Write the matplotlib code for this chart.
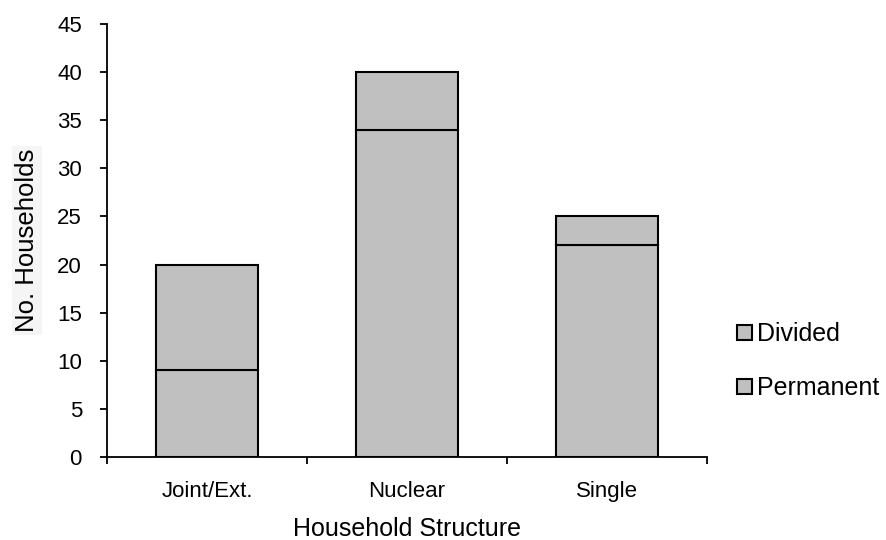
import matplotlib.pyplot as plt
from matplotlib.patches import Patch
import numpy as np

plt.rcParams['font.family'] = ['Liberation Sans', 'DejaVu Sans']

# Household counts by structure
categories = ["Joint/Ext.", "Nuclear", "Single"]
permanent = [9, 34, 22]
divided = [11, 6, 3]

bar_color = "#c0c0c0"

fig = plt.figure(figsize=(8.87, 5.40), dpi=100)
ax = fig.add_axes([0.1206, 0.1537, 0.6764, 0.8019])

x = np.arange(len(categories))
ax.bar(x, permanent, width=0.51, color=bar_color, edgecolor="black", linewidth=1.5)
ax.bar(x, divided, width=0.51, bottom=permanent, color=bar_color,
       edgecolor="black", linewidth=1.5)

ax.set_xlim(-0.5, len(categories) - 0.5)
ax.set_ylim(0, 45)
ax.set_yticks(np.arange(0, 46, 5))
ax.tick_params(axis="y", direction="out", length=5, width=1.3, labelsize=16, pad=13)

# category labels centred, ticks at the boundaries
ax.set_xticks(np.arange(-0.5, len(categories)), minor=False)
ax.set_xticklabels([])
ax.set_xticks(x, minor=True)
ax.set_xticklabels(categories, minor=True)
ax.tick_params(axis="x", which="major", direction="out", length=5, width=1.3)
ax.tick_params(axis="x", which="minor", length=0, labelsize=16, pad=17)

for side in ["top", "right"]:
    ax.spines[side].set_visible(False)
for side in ["left", "bottom"]:
    ax.spines[side].set_linewidth(1.3)

ax.set_xlabel("Household Structure", fontsize=18, labelpad=11)
ax.set_ylabel("No. Households", fontsize=18.5, labelpad=13,
              bbox=dict(facecolor="#f5f5f5", edgecolor="none", pad=2))

handles = [Patch(facecolor=bar_color, edgecolor="black", linewidth=1.5, label="Divided"),
           Patch(facecolor=bar_color, edgecolor="black", linewidth=1.5, label="Permanent")]
fig.legend(handles=handles, loc="center left", bbox_to_anchor=(0.831, 0.331),
           frameon=False, fontsize=18, handlelength=0.6, handleheight=0.6,
           handletextpad=0.2, labelspacing=1.2, borderpad=0, borderaxespad=0)

fig.savefig("out.png", dpi=100)
